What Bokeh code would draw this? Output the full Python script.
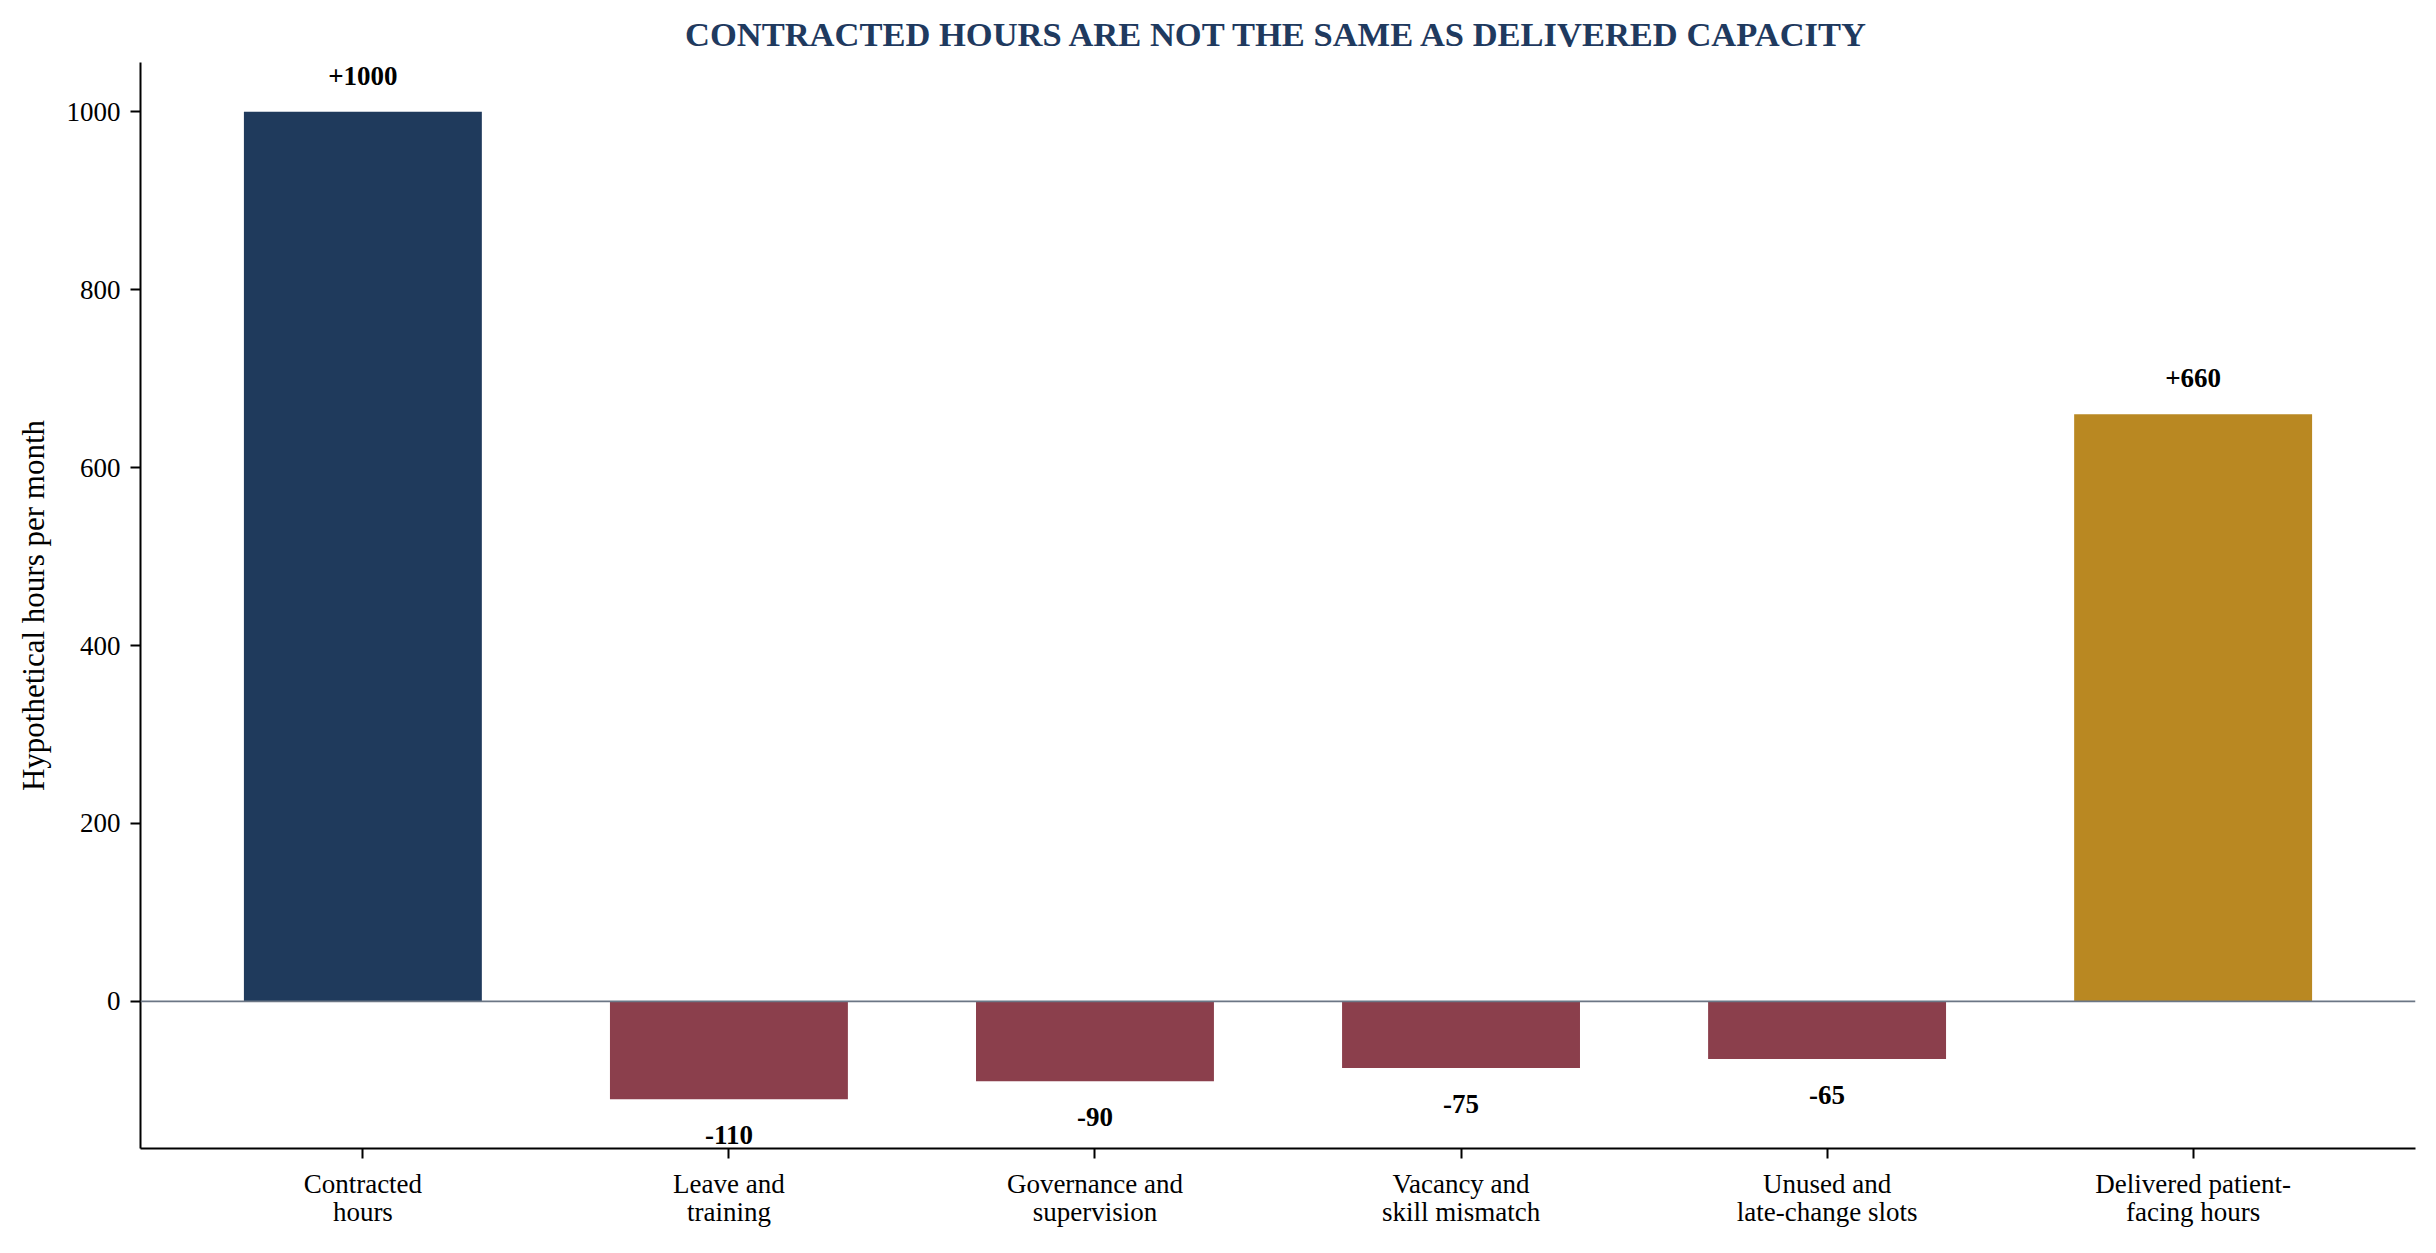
from bokeh.plotting import figure
from bokeh.models import ColumnDataSource, FixedTicker, Range1d, Span
from bokeh.core.properties import value
from bokeh.embed import file_html
from bokeh.resources import INLINE

# ---- data ----
categories = ["Contracted\nhours", "Leave and\ntraining", "Governance and\nsupervision",
              "Vacancy and\nskill mismatch", "Unused and\nlate-change slots",
              "Delivered patient-\nfacing hours"]
values = [1000, -110, -90, -75, -65, 660]
kinds = ["total", "loss", "loss", "loss", "loss", "result"]
y_ticks = [0, 200, 400, 600, 800, 1000]

FONT = "Liberation Serif"
colour_map = {"total": "#1f3a5c", "loss": "#8b3f4c", "result": "#b98822"}

xs = list(range(len(categories)))
labels = [("+%d" % v) if v > 0 else ("%d" % v) for v in values]
offsets = [-36 if v > 0 else 36 for v in values]
colors = [colour_map[k] for k in kinds]

src = ColumnDataSource(dict(x=xs, top=values, color=colors, label=labels, off=offsets))

lo = min(min(values), 0)
hi = max(max(values), 0)
pad_y = (hi - lo) * 0.05
bw = 0.65
pad_x = (len(categories) - 1 + bw) * 0.05

p = figure(width=2428, height=1245, output_backend="svg", toolbar_location=None,
           x_range=Range1d(-bw / 2 - pad_x, len(categories) - 1 + bw / 2 + pad_x),
           y_range=Range1d(lo - pad_y, hi + pad_y),
           title="CONTRACTED HOURS ARE NOT THE SAME AS DELIVERED CAPACITY")
p.min_border_left = 140
p.min_border_right = 13
p.min_border_top = 62
p.min_border_bottom = 97
p.outline_line_color = None
p.background_fill_color = "white"
p.border_fill_color = "white"
p.xgrid.visible = False
p.ygrid.visible = False

p.title.align = "center"
p.title.text_font = FONT
p.title.text_font_size = "34.5px"
p.title.text_font_style = "bold"
p.title.text_color = "#1f3a5f"
p.title.standoff = 20

p.vbar(x="x", top="top", bottom=0, width=bw, color="color", source=src, line_color=None)

p.add_layout(Span(location=0, dimension="width", line_color="#6b7685", line_width=1.8))

p.text(x="x", y="top", text="label", y_offset="off", source=src,
       text_font=value(FONT), text_font_size="27px", text_font_style="bold",
       text_align="center", text_baseline="middle", text_color="black")

for ax in (p.xaxis[0], p.yaxis[0]):
    ax.axis_line_color = "black"
    ax.axis_line_width = 2
    ax.major_tick_line_color = "black"
    ax.major_tick_line_width = 2
    ax.major_tick_out = 10
    ax.major_tick_in = 0
    ax.minor_tick_line_color = None
    ax.major_label_text_font = FONT
    ax.major_label_text_font_size = "27px"
    ax.major_label_text_color = "black"
    ax.major_label_standoff = 10

p.xaxis.ticker = FixedTicker(ticks=xs)
p.xaxis.major_label_overrides = {i: c for i, c in zip(xs, categories)}
p.xaxis.major_label_text_line_height = 0.96
p.yaxis.ticker = FixedTicker(ticks=y_ticks)
p.yaxis.axis_label = "Hypothetical hours per month"
p.yaxis.axis_label_text_font = FONT
p.yaxis.axis_label_text_font_size = "31px"
p.yaxis.axis_label_text_font_style = "normal"
p.yaxis.axis_label_text_color = "black"
p.yaxis.axis_label_standoff = 13

open("out.html", "w").write(file_html(p, INLINE))
